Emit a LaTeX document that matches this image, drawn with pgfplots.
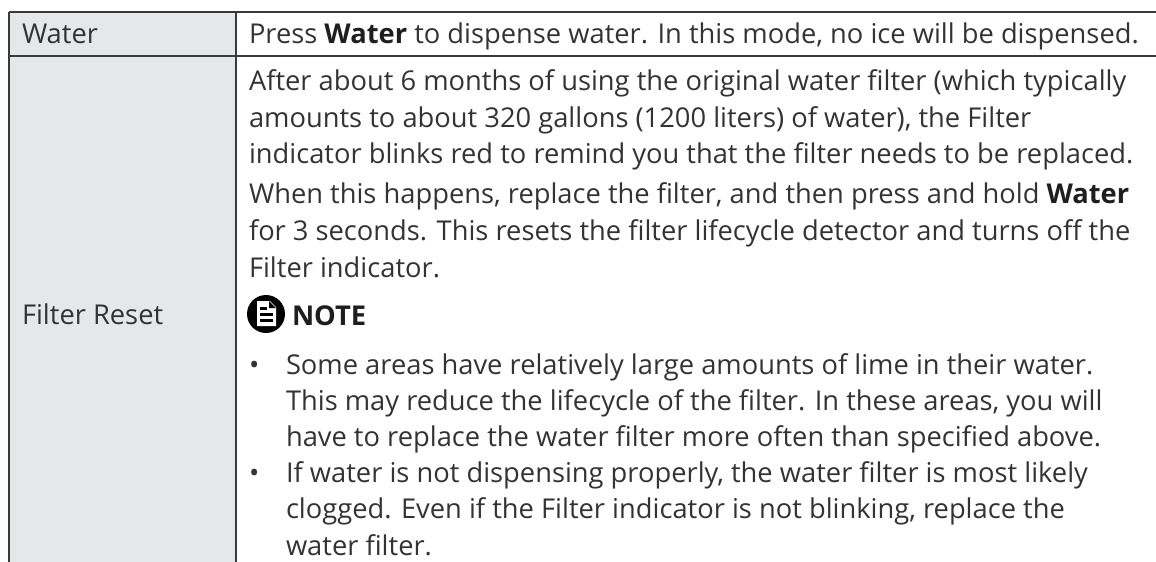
\documentclass[border=0pt]{standalone}
\usepackage{fontspec}
\setmainfont{Open Sans}
\usepackage{pgfplots}
\pgfplotsset{compat=1.18}
\definecolor{cellgray}{HTML}{E6E7E9}
\definecolor{rule}{HTML}{3A3A3A}
\definecolor{txt}{HTML}{333333}
\definecolor{bold}{HTML}{1E1E1E}
\newcommand{\B}[1]{{\bfseries\color{bold}#1}}
\tikzset{tx/.style={font=\fontsize{27.4}{32}\selectfont, text=txt, inner sep=0pt, outer sep=0pt, anchor=base west}}
\begin{document}
\begin{tikzpicture}
\begin{axis}[
  width=1156bp, height=562bp, scale only axis,
  xmin=0, xmax=1156, ymin=0, ymax=562, y dir=reverse,
  hide axis, clip=true,
]
% left column shading
\addplot[fill=cellgray, draw=none] coordinates {(9,12) (236,12) (236,600) (9,600) (9,12)};
% table rules
\addplot[rule, line width=1.4bp] coordinates {(9,12) (1160,12)};
\addplot[rule, line width=1.4bp] coordinates {(9,56) (1160,56)};
\addplot[rule, line width=1.4bp] coordinates {(9,12) (9,600)};
\addplot[rule, line width=1.4bp] coordinates {(236,12) (236,600)};
% left column
\node[tx] at (axis cs:22,44) {Water};
\node[tx] at (axis cs:22,324) {Filter Reset};
% right column
\node[tx] at (axis cs:249,44) {Press \B{Water} to dispense water. In this mode, no ice will be dispensed.};
\node[tx] at (axis cs:249,91) {After about 6 months of using the original water filter (which typically};
\node[tx] at (axis cs:249,127) {amounts to about 320 gallons (1200 liters) of water), the Filter};
\node[tx] at (axis cs:249,163) {indicator blinks red to remind you that the filter needs to be replaced.};
\node[tx] at (axis cs:249,203) {When this happens, replace the filter, and then press and hold \B{Water}};
\node[tx] at (axis cs:249,240) {for 3 seconds. This resets the filter lifecycle detector and turns off the};
\node[tx] at (axis cs:249,277) {Filter indicator.};
% NOTE icon
\fill[black] (axis cs:266,314) circle[radius=19bp];
\fill[white] (axis cs:257,301) -- (axis cs:270,301) -- (axis cs:276,307) -- (axis cs:276,326) -- (axis cs:257,326) -- cycle;
\fill[black] (axis cs:269,301) -- (axis cs:269,308) -- (axis cs:276,308) -- cycle;
\fill[black] (axis cs:260,307) rectangle (axis cs:267,309.5);
\fill[black] (axis cs:260,313) rectangle (axis cs:273,315.5);
\fill[black] (axis cs:260,319) rectangle (axis cs:273,321.5);
\node[tx] at (axis cs:292,325) {\B{NOTE}};
% bullets
\node[tx] at (axis cs:249,374) {•};
\node[tx] at (axis cs:286,374) {Some areas have relatively large amounts of lime in their water.};
\node[tx] at (axis cs:286,410) {This may reduce the lifecycle of the filter. In these areas, you will};
\node[tx] at (axis cs:286,446) {have to replace the water filter more often than specified above.};
\node[tx] at (axis cs:249,482) {•};
\node[tx] at (axis cs:286,482) {If water is not dispensing properly, the water filter is most likely};
\node[tx] at (axis cs:286,518) {clogged. Even if the Filter indicator is not blinking, replace the};
\node[tx] at (axis cs:286,555) {water filter.};
\end{axis}
\pgfresetboundingbox
\path[use as bounding box] (0,0) rectangle (1156bp,562bp);
\end{tikzpicture}
\end{document}
